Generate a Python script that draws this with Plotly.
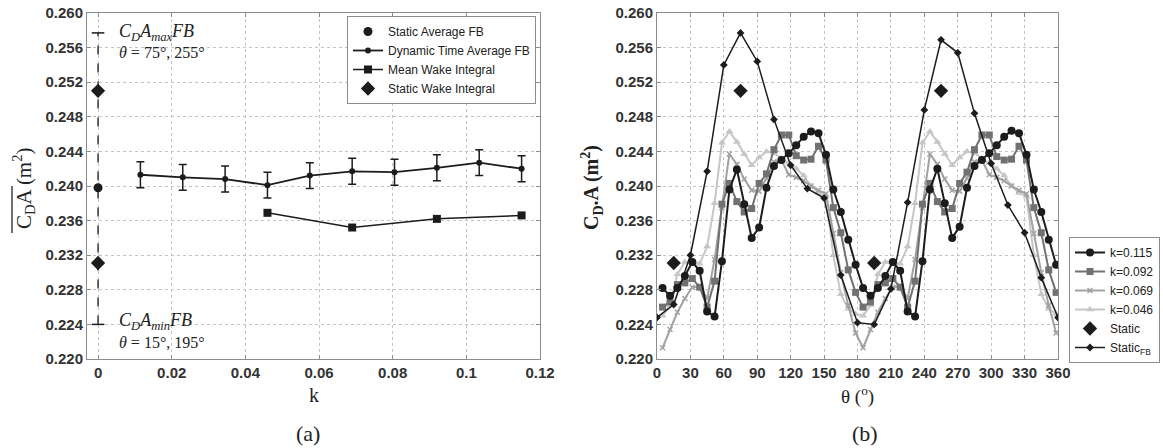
import plotly.graph_objects as go

# ---------------- panel (a): mean drag area against reduced frequency ----------------
k_dynamic = [0.0115, 0.023, 0.0345, 0.046, 0.0575, 0.069, 0.0805, 0.092, 0.1035, 0.115]
cda_dynamic = [0.2413, 0.2410, 0.2408, 0.2401, 0.2412, 0.2417, 0.2416, 0.2421, 0.2427, 0.2420]
cda_dynamic_err = [0.0015, 0.0015, 0.0015, 0.0015, 0.0015, 0.0015, 0.0015, 0.0015, 0.0015, 0.0015]

k_wake = [0.046, 0.069, 0.092, 0.115]
cda_wake = [0.2369, 0.2352, 0.2362, 0.2366]

k_static = [0.0]
cda_static_avg = [0.2398]
cda_static_wake = [0.2510, 0.2311]

# ---------------- panel (b): drag area against yaw angle ----------------
theta_dyn = [5.0, 11.7, 18.3, 25.0, 31.7, 38.3, 45.0, 51.7, 58.3, 65.0, 71.7, 78.3, 85.0, 91.7,
             98.3, 105.0, 111.7, 118.3, 125.0, 131.7, 138.3, 145.0, 151.7, 158.3, 165.0, 171.7, 178.3,
             185.0, 191.7, 198.3, 205.0, 211.7, 218.3, 225.0, 231.7, 238.3, 245.0, 251.7, 258.3, 265.0,
             271.7, 278.3, 285.0, 291.7, 298.3, 305.0, 311.7, 318.3, 325.0, 331.7, 338.3, 345.0, 351.7, 358.3]

cda_k115 = [0.2282, 0.2273, 0.2282, 0.2296, 0.2312, 0.2302, 0.2255, 0.2249, 0.2313, 0.2396, 0.2419,
            0.2379, 0.2340, 0.2352, 0.2398, 0.2423, 0.2430, 0.2438, 0.2447, 0.2457, 0.2463, 0.2461,
            0.2436, 0.2396, 0.2370, 0.2338, 0.2309,
            0.2282, 0.2273, 0.2282, 0.2296, 0.2312, 0.2302, 0.2255, 0.2249, 0.2313, 0.2396, 0.2420,
            0.2380, 0.2340, 0.2353, 0.2398, 0.2423, 0.2430, 0.2438, 0.2447, 0.2457, 0.2464, 0.2461,
            0.2436, 0.2396, 0.2370, 0.2338, 0.2309]

cda_k092 = [0.2260, 0.2266, 0.2286, 0.2288, 0.2293, 0.2283, 0.2260, 0.2290, 0.2379, 0.2403, 0.2382,
            0.2370, 0.2374, 0.2403, 0.2414, 0.2442, 0.2459, 0.2459, 0.2435, 0.2430, 0.2431, 0.2446,
            0.2430, 0.2375, 0.2346, 0.2303, 0.2277,
            0.2260, 0.2266, 0.2286, 0.2288, 0.2293, 0.2283, 0.2260, 0.2290, 0.2379, 0.2403, 0.2382,
            0.2370, 0.2374, 0.2403, 0.2416, 0.2442, 0.2459, 0.2459, 0.2434, 0.2430, 0.2431, 0.2446,
            0.2430, 0.2375, 0.2346, 0.2303, 0.2277]

cda_k069 = [0.2213, 0.2234, 0.2254, 0.2270, 0.2283, 0.2284, 0.2270, 0.2315, 0.2375, 0.2437, 0.2425,
            0.2408, 0.2395, 0.2394, 0.2409, 0.2428, 0.2430, 0.2413, 0.2410, 0.2406, 0.2400, 0.2395,
            0.2391, 0.2345, 0.2300, 0.2262, 0.2230,
            0.2213, 0.2234, 0.2254, 0.2270, 0.2283, 0.2284, 0.2270, 0.2315, 0.2375, 0.2437, 0.2425,
            0.2408, 0.2395, 0.2394, 0.2409, 0.2428, 0.2430, 0.2413, 0.2410, 0.2406, 0.2400, 0.2395,
            0.2391, 0.2345, 0.2300, 0.2262, 0.2230]

cda_k046 = [0.2250, 0.2262, 0.2298, 0.2312, 0.2313, 0.2310, 0.2330, 0.2380, 0.2450, 0.2463, 0.2451,
            0.2437, 0.2424, 0.2433, 0.2440, 0.2438, 0.2432, 0.2427, 0.2420, 0.2412, 0.2400, 0.2392,
            0.2388, 0.2320, 0.2275, 0.2258, 0.2252,
            0.2250, 0.2262, 0.2298, 0.2312, 0.2313, 0.2310, 0.2330, 0.2380, 0.2450, 0.2463, 0.2451,
            0.2437, 0.2424, 0.2433, 0.2440, 0.2438, 0.2432, 0.2427, 0.2420, 0.2412, 0.2400, 0.2392,
            0.2388, 0.2320, 0.2275, 0.2258, 0.2252]

theta_fb = [0, 15, 30, 45, 60, 75, 90, 105, 120, 135, 150, 165, 180,
            195, 210, 225, 240, 255, 270, 285, 300, 315, 330, 345, 360]
cda_static_fb = [0.2248, 0.2263, 0.2320, 0.2417, 0.2540, 0.2577, 0.2544, 0.2477, 0.2424, 0.2397,
                 0.2386, 0.2297, 0.2242, 0.2240, 0.2281, 0.2381, 0.2488, 0.2569, 0.2554, 0.2484,
                 0.2426, 0.2378, 0.2346, 0.2294, 0.2248]

theta_static = [15, 75, 195, 255]
cda_static = [0.2311, 0.2510, 0.2311, 0.2510]

# ---------------- ticks ----------------
k_ticks = [0, 0.02, 0.04, 0.06, 0.08, 0.1, 0.12]
k_tick_text = ["0", "0.02", "0.04", "0.06", "0.08", "0.1", "0.12"]
theta_ticks = [0, 30, 60, 90, 120, 150, 180, 210, 240, 270, 300, 330, 360]
cda_ticks = [0.220, 0.224, 0.228, 0.232, 0.236, 0.240, 0.244, 0.248, 0.252, 0.256, 0.260]
cda_tick_text = ["0.220", "0.224", "0.228", "0.232", "0.236", "0.240",
                 "0.244", "0.248", "0.252", "0.256", "0.260"]

W, H = 1163, 448
BLACK = "#1c1c1c"

fig = go.Figure()

# envelope of the static force-balance curve at k = 0
cda_fb_min, cda_fb_max = min(cda_static_fb), max(cda_static_fb)
fig.add_trace(go.Scatter(
    x=[k_static[0], k_static[0]], y=[cda_fb_min, cda_fb_max],
    mode="lines+markers", line=dict(color=BLACK, width=1.3, dash="dash"),
    marker=dict(symbol="line-ew", size=9, line=dict(width=1.5, color=BLACK)),
    showlegend=False, hoverinfo="skip", xaxis="x", yaxis="y"))

fig.add_trace(go.Scatter(
    x=k_static, y=cda_static_avg, mode="markers", name="Static Average FB",
    marker=dict(symbol="circle", size=9, color=BLACK), legend="legend",
    xaxis="x", yaxis="y"))
fig.add_trace(go.Scatter(
    x=k_dynamic, y=cda_dynamic, mode="lines+markers", name="Dynamic Time Average FB",
    line=dict(color=BLACK, width=1.8), marker=dict(symbol="circle", size=6, color=BLACK),
    error_y=dict(type="data", array=cda_dynamic_err, visible=True, color=BLACK,
                 thickness=1.5, width=4),
    legend="legend", xaxis="x", yaxis="y"))
fig.add_trace(go.Scatter(
    x=k_wake, y=cda_wake, mode="lines+markers", name="Mean Wake Integral",
    line=dict(color=BLACK, width=1.5), marker=dict(symbol="square", size=8, color=BLACK),
    legend="legend", xaxis="x", yaxis="y"))
fig.add_trace(go.Scatter(
    x=[k_static[0]] * len(cda_static_wake), y=cda_static_wake, mode="markers",
    name="Static Wake Integral", marker=dict(symbol="diamond", size=11, color=BLACK),
    legend="legend", xaxis="x", yaxis="y"))

# panel (b) curves, lightest drawn first
series_b = [
    ("k=0.046", cda_k046, "#c6c6c6", "triangle-up", 7, 4),
    ("k=0.069", cda_k069, "#a2a2a2", "x-thin", 5, 3),
    ("k=0.092", cda_k092, "#717171", "square", 7, 2),
    ("k=0.115", cda_k115, BLACK, "circle", 8, 1),
]
for name, vals, col, sym, size, rank in series_b:
    mk = dict(symbol=sym, size=size, color=col)
    if sym == "x-thin":
        mk["line"] = dict(width=1.5, color=col)
    fig.add_trace(go.Scatter(
        x=theta_dyn, y=vals, mode="lines+markers", name=name,
        line=dict(color=col, width=2), marker=mk, legendrank=rank,
        legend="legend2", xaxis="x2", yaxis="y2"))

fig.add_trace(go.Scatter(
    x=theta_static, y=cda_static, mode="markers", name="Static",
    marker=dict(symbol="diamond", size=11, color=BLACK), legendrank=5,
    legend="legend2", xaxis="x2", yaxis="y2"))
fig.add_trace(go.Scatter(
    x=theta_fb, y=cda_static_fb, mode="lines+markers", name="Static<sub>FB</sub>",
    line=dict(color=BLACK, width=1.5), marker=dict(symbol="diamond", size=6, color=BLACK),
    legendrank=6, legend="legend2", xaxis="x2", yaxis="y2"))

tick_font = dict(family="Liberation Sans", size=15, color="#333333", weight="bold")
axis_common = dict(
    showline=True, linecolor="#8c8c8c", linewidth=1, mirror="ticks",
    ticks="inside", ticklen=4, tickcolor="#8c8c8c",
    showgrid=True, gridcolor="#c4c4c4", griddash="dot", gridwidth=1,
    zeroline=False, tickfont=tick_font, automargin=False,
)

y_dom = [1 - 359 / H, 1 - 13 / H]
fig.update_layout(
    width=W, height=H, margin=dict(l=0, r=0, t=0, b=0),
    paper_bgcolor="white", plot_bgcolor="white",
    xaxis=dict(domain=[87 / W, 540 / W], range=[-0.003, 0.12],
               tickvals=k_ticks, ticktext=k_tick_text, anchor="y", **axis_common),
    yaxis=dict(domain=y_dom, range=[0.22, 0.26], tickvals=cda_ticks,
               ticktext=cda_tick_text, anchor="x", **axis_common),
    xaxis2=dict(domain=[657 / W, 1058 / W], range=[0, 360],
                tickvals=theta_ticks, anchor="y2", **axis_common),
    yaxis2=dict(domain=y_dom, range=[0.22, 0.26], tickvals=cda_ticks,
                ticktext=cda_tick_text, anchor="x2", **axis_common),
    legend=dict(x=347 / W, y=1 - 16 / H, xanchor="left", yanchor="top",
                bgcolor="white", bordercolor="#8c8c8c", borderwidth=1,
                font=dict(family="Liberation Sans", size=12, color="#222222"),
                tracegroupgap=0),
    legend2=dict(x=1069 / W, y=1 - 237 / H, xanchor="left", yanchor="top",
                 bgcolor="white", bordercolor="#8c8c8c", borderwidth=1,
                 font=dict(family="Liberation Sans", size=12, color="#222222"),
                 tracegroupgap=0),
    showlegend=True,
)

serif = "Liberation Serif"
annotations = [
    # envelope labels in panel (a)
    dict(x=0.0052, y=0.2577, xref="x", yref="y", xanchor="left", yanchor="middle",
         text="<i>C<sub>D</sub>A<sub>max</sub>FB</i>", font=dict(family=serif, size=18, color="#222")),
    dict(x=0.0052, y=0.2554, xref="x", yref="y", xanchor="left", yanchor="middle",
         text="<i>θ</i> = 75°, 255°", font=dict(family=serif, size=16, color="#222")),
    dict(x=0.0052, y=0.2243, xref="x", yref="y", xanchor="left", yanchor="middle",
         text="<i>C<sub>D</sub>A<sub>min</sub>FB</i>", font=dict(family=serif, size=18, color="#222")),
    dict(x=0.0052, y=0.2219, xref="x", yref="y", xanchor="left", yanchor="middle",
         text="<i>θ</i> = 15°, 195°", font=dict(family=serif, size=16, color="#222")),
    # axis titles
    dict(x=23 / W, y=1 - 188 / H, text="C<sub>D</sub>A (m<sup>2</sup>)", textangle=-90,
         font=dict(family=serif, size=21, color="#222")),
    dict(x=592 / W, y=1 - 188 / H, text="<b>C<sub>D</sub>.A (m<sup>2</sup>)</b>", textangle=-90,
         font=dict(family=serif, size=20, color="#222")),
    dict(x=314 / W, y=1 - 395 / H, text="k", font=dict(family=serif, size=20, color="#222")),
    dict(x=857 / W, y=1 - 395 / H, text="θ (<sup>o</sup>)",
         font=dict(family=serif, size=19, color="#222")),
    dict(x=308 / W, y=1 - 433 / H, text="(a)", font=dict(family=serif, size=22, color="#222")),
    dict(x=865 / W, y=1 - 433 / H, text="(b)", font=dict(family=serif, size=22, color="#222")),
]
for a in annotations:
    a.setdefault("showarrow", False)
    a.setdefault("xref", "paper")
    a.setdefault("yref", "paper")
    a.setdefault("xanchor", "center")
    a.setdefault("yanchor", "middle")
fig.update_layout(annotations=annotations)

# overline on the mean drag-area symbol
fig.add_shape(type="line", xref="paper", yref="paper",
              x0=12 / W, x1=12 / W, y0=1 - 186 / H, y1=1 - 233 / H,
              line=dict(color="#222", width=1.3))

fig.write_html("out.html")
